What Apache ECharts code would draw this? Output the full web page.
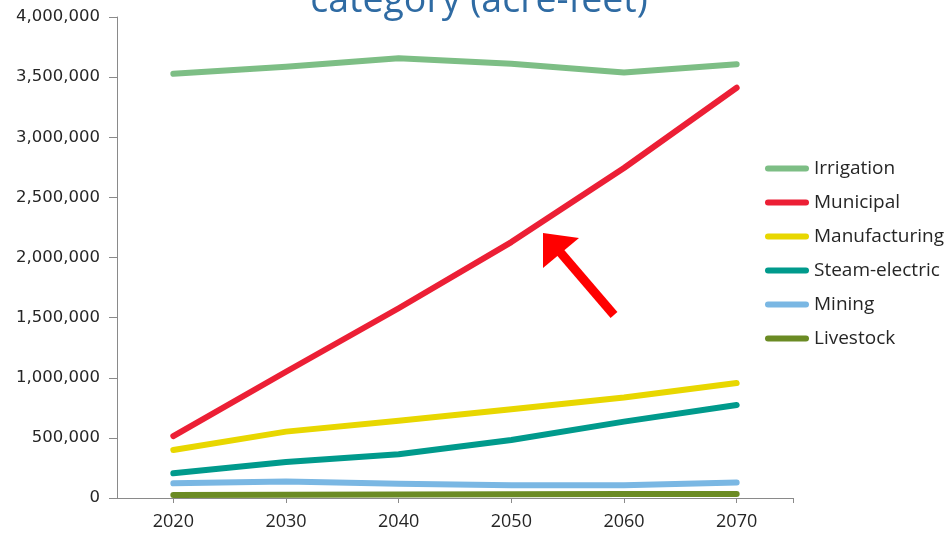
<!DOCTYPE html>
<html>
<head>
<meta charset="utf-8">
<script src="https://cdn.jsdelivr.net/npm/echarts@6/dist/echarts.min.js"></script>
<style>
html,body{margin:0;padding:0;background:#fff;}
#chart{width:946px;height:535px;}
</style>
</head>
<body>
<div id="chart"></div>
<script>
const years = ['2020', '2030', '2040', '2050', '2060', '2070'];
const seriesNames = ['Irrigation', 'Municipal', 'Manufacturing', 'Steam-electric', 'Mining', 'Livestock'];
const irrigation = [3528000, 3587000, 3656000, 3612000, 3538000, 3607000];
const municipal = [515000, 1050000, 1578000, 2128000, 2744000, 3412000];
const manufacturing = [399000, 552000, 642000, 738000, 835000, 956000];
const steamElectric = [205000, 299000, 363000, 482000, 635000, 773000];
const mining = [122000, 138000, 118000, 106000, 106000, 128000];
const livestock = [25000, 28000, 30000, 32000, 33000, 33000];
const yTicks = { min: 0, max: 4000000, interval: 500000 };
const titleText = 'category (acre-feet)';

const colors = ['#7DBE85', '#EC1F35', '#E8D700', '#009A8C', '#7AB7E3', '#6B8B24'];
const values = [irrigation, municipal, manufacturing, steamElectric, mining, livestock];
const FONT = '"Open Sans", sans-serif';
const TXT = '#262626';
const AX = '#8a8a8a';

const chart = echarts.init(document.getElementById('chart'), null, { renderer: 'canvas' });
chart.setOption({
  animation: false,
  backgroundColor: '#ffffff',
  grid: { left: 117, right: 153, top: 17, bottom: 37, containLabel: false },
  legend: {
    orient: 'vertical',
    left: 765,
    top: 159,
    padding: 0,
    itemWidth: 44,
    itemHeight: 6,
    itemGap: 15,
    icon: 'path://M3,0 L41,0 A3,3 0 0 1 41,6 L3,6 A3,3 0 0 1 3,0 Z',
    textStyle: { fontFamily: FONT, fontSize: 19, color: TXT },
    data: seriesNames,
    selectedMode: false
  },
  xAxis: [{
    type: 'category',
    data: years,
    boundaryGap: true,
    axisLine: { lineStyle: { color: AX, width: 1 } },
    axisTick: { show: true, alignWithLabel: true, length: 5, lineStyle: { color: AX } },
    axisLabel: { fontFamily: FONT, fontSize: 18, color: TXT, margin: 15 },
    splitLine: { show: false }
  }, {
    type: 'value',
    min: 0,
    max: 6,
    position: 'bottom',
    axisLine: { show: false },
    axisTick: { show: true, length: 5, customValues: [6], lineStyle: { color: AX } },
    axisLabel: { show: false },
    splitLine: { show: false }
  }],
  yAxis: {
    type: 'value',
    min: yTicks.min,
    max: yTicks.max,
    interval: yTicks.interval,
    axisLine: { show: true, lineStyle: { color: AX, width: 1 } },
    axisTick: { show: true, length: 8, lineStyle: { color: AX } },
    axisLabel: {
      fontFamily: '"DejaVu Sans", sans-serif', fontSize: 16.5, color: TXT, margin: 17,
      formatter: v => v.toLocaleString('en-US')
    },
    splitLine: { show: false }
  },
  series: seriesNames.map((name, i) => ({
    name: name,
    type: 'line',
    data: values[i],
    color: colors[i],
    showSymbol: false,
    symbol: 'none',
    z: 10 - i,
    lineStyle: { width: 6, color: colors[i], cap: 'round', join: 'round' },
    emphasis: { disabled: true }
  })),
  graphic: [
    {
      type: 'text',
      style: {
        text: titleText,
        x: 479,
        y: 1,
        align: 'center',
        verticalAlign: 'middle',
        fontFamily: FONT,
        fontSize: 37.5,
        fill: '#2F6BA3'
      },
      silent: true
    },
    {
      type: 'group',
      silent: true,
      children: [
        { type: 'line', shape: { x1: 614, y1: 315, x2: 560, y2: 252 }, style: { stroke: '#FF0000', lineWidth: 9 } },
        { type: 'polygon', shape: { points: [[543, 233], [579, 238], [543, 268]] }, style: { fill: '#FF0000' } }
      ]
    }
  ]
});
</script>
</body>
</html>
